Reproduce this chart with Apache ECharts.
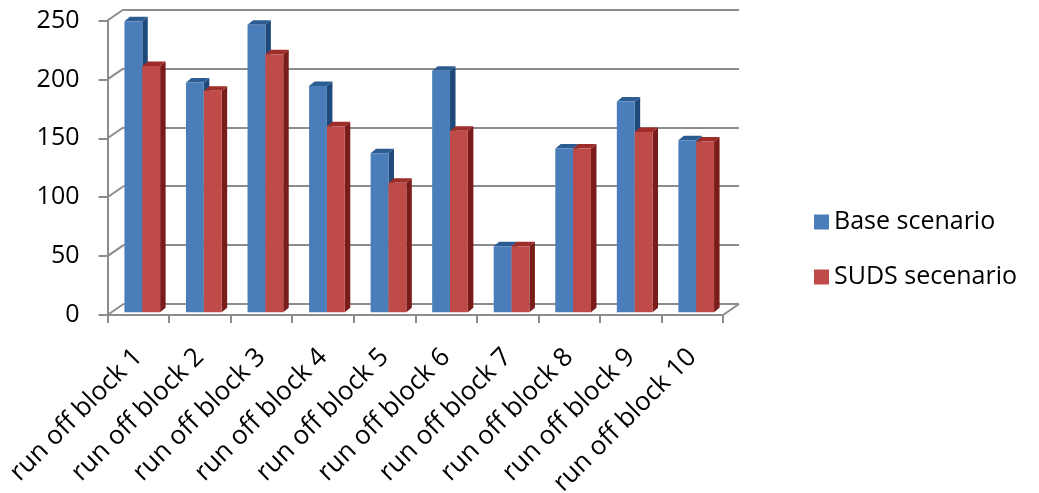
<!DOCTYPE html>
<html>
<head>
<meta charset="utf-8">
<script src="https://cdn.jsdelivr.net/npm/echarts@6/dist/echarts.min.js"></script>
<style>
  html, body { margin: 0; padding: 0; background: #fff; }
  #chart { width: 1039px; height: 493px; }
</style>
</head>
<body>
<div id="chart"></div>
<script>
// Runoff per block, base case vs. SUDS case
const categories = [
  'run off block 1', 'run off block 2', 'run off block 3', 'run off block 4', 'run off block 5',
  'run off block 6', 'run off block 7', 'run off block 8', 'run off block 9', 'run off block 10'
];
const baseScenario = [247, 195, 244, 192, 135, 205, 56, 139, 179, 146];
const sudsScenario = [209, 188, 219, 158, 110, 154, 56, 139, 153, 145];
const yTicks = [0, 50, 100, 150, 200, 250];
const seriesNames = ['Base scenario', 'SUDS secenario'];

// Oblique projection used for the pseudo-3D look
const DEPTH = [16, -11];        // front plane -> back wall
const BAR_DEPTH_POS = 0.25;     // where the bar fronts sit between front and back
const BAR_SIDE = [5.5, -4.5];   // visible thickness of each column
const GRID_LINE = '#8c8c8c';
const FONT = 'Open Sans';
const TEXT = '#000';

const palettes = [
  { front: '#4a7ebb', side: '#1d4a7a', top: '#2b5c92' },
  { front: '#be4b48', side: '#7a1c19', top: '#9e2c29' }
];

const front = { left: 107.5, top: 20.5, width: 615.5, height: 294.5 };
const back = { left: front.left + DEPTH[0], top: front.top + DEPTH[1], width: front.width, height: front.height };

function columnRenderer(slot) {
  const pal = palettes[slot];
  return function (params, api) {
    const idx = api.value(0);
    const v = api.value(1);
    const base = api.coord([idx, 0]);
    const top = api.coord([idx, v]);
    const catW = api.size([1, 0])[0];
    const w = catW * 0.29;
    const ox = DEPTH[0] * BAR_DEPTH_POS, oy = DEPTH[1] * BAR_DEPTH_POS;
    const x0 = base[0] - w + slot * w + ox;
    const yb = base[1] + oy, yt = top[1] + oy;
    const sx = BAR_SIDE[0], sy = BAR_SIDE[1];
    return {
      type: 'group',
      children: [
        { type: 'polygon', shape: { points: [[x0 + w, yt], [x0 + w + sx, yt + sy], [x0 + w + sx, yb + sy], [x0 + w, yb]] }, style: { fill: pal.side } },
        { type: 'polygon', shape: { points: [[x0, yt], [x0 + sx, yt + sy], [x0 + w + sx, yt + sy], [x0 + w, yt]] }, style: { fill: pal.top } },
        { type: 'rect', shape: { x: x0, y: yt, width: w, height: yb - yt }, style: { fill: pal.front } }
      ]
    };
  };
}

// Diagonal edges joining the front axis to the back wall
function edgeRenderer(params, api) {
  const cs = params.coordSys;
  const v = api.value(1);
  const p = api.coord([0, v]);
  const lines = [{
    type: 'line',
    shape: { x1: cs.x, y1: p[1], x2: cs.x + DEPTH[0], y2: p[1] + DEPTH[1] },
    style: { stroke: GRID_LINE, lineWidth: 2 }
  }];
  if (v === 0) {
    lines.push({
      type: 'line',
      shape: { x1: cs.x + cs.width, y1: p[1], x2: cs.x + cs.width + DEPTH[0], y2: p[1] + DEPTH[1] },
      style: { stroke: GRID_LINE, lineWidth: 2 }
    });
  }
  return { type: 'group', children: lines };
}

const chart = echarts.init(document.getElementById('chart'), null, { renderer: 'canvas' });
chart.setOption({
  animation: false,
  backgroundColor: '#ffffff',
  grid: [
    Object.assign({ containLabel: false, outerBoundsMode: 'none' }, back),
    Object.assign({ containLabel: false, outerBoundsMode: 'none' }, front)
  ],
  legend: {
    orient: 'vertical',
    left: 809,
    top: 202,
    itemWidth: 15,
    itemHeight: 15,
    itemGap: 25,
    icon: 'rect',
    textStyle: { fontFamily: FONT, fontSize: 25, color: TEXT, lineHeight: 30 },
    data: [
      { name: seriesNames[0], itemStyle: { color: palettes[0].front } },
      { name: seriesNames[1], itemStyle: { color: palettes[1].front } }
    ]
  },
  xAxis: [
    { gridIndex: 0, type: 'category', data: categories, show: false },
    {
      gridIndex: 1,
      type: 'category',
      data: categories,
      boundaryGap: true,
      axisLine: { show: true, lineStyle: { color: GRID_LINE, width: 2 } },
      axisTick: { show: true, length: 8, lineStyle: { color: GRID_LINE, width: 2 } },
      axisLabel: { rotate: 45, margin: 38, interval: 0, fontFamily: FONT, fontSize: 26, color: TEXT },
      splitLine: { show: false }
    }
  ],
  yAxis: [
    {
      gridIndex: 0, type: 'value', min: 0, max: 250, interval: 50,
      axisLine: { show: false }, axisTick: { show: false }, axisLabel: { show: false },
      splitLine: { show: true, lineStyle: { color: GRID_LINE, width: 2 } }
    },
    {
      gridIndex: 1, type: 'value', min: 0, max: 250, interval: 50,
      axisLine: { show: true, lineStyle: { color: GRID_LINE, width: 2 } },
      axisTick: { show: true, length: 9, lineStyle: { color: GRID_LINE, width: 2 } },
      axisLabel: { margin: 28, fontFamily: FONT, fontSize: 25, color: TEXT },
      splitLine: { show: false }
    }
  ],
  series: [
    {
      type: 'custom',
      name: 'edges',
      xAxisIndex: 1, yAxisIndex: 1,
      renderItem: edgeRenderer,
      data: yTicks.map(v => [0, v]),
      encode: { x: 0, y: 1 },
      silent: true,
      z: 1
    },
    {
      type: 'custom',
      name: seriesNames[0],
      xAxisIndex: 1, yAxisIndex: 1,
      renderItem: columnRenderer(0),
      itemStyle: { color: palettes[0].front },
      data: baseScenario.map((v, i) => [i, v]),
      encode: { x: 0, y: 1 },
      z: 3
    },
    {
      type: 'custom',
      name: seriesNames[1],
      xAxisIndex: 1, yAxisIndex: 1,
      renderItem: columnRenderer(1),
      itemStyle: { color: palettes[1].front },
      data: sudsScenario.map((v, i) => [i, v]),
      encode: { x: 0, y: 1 },
      z: 4
    }
  ]
});
</script>
</body>
</html>
